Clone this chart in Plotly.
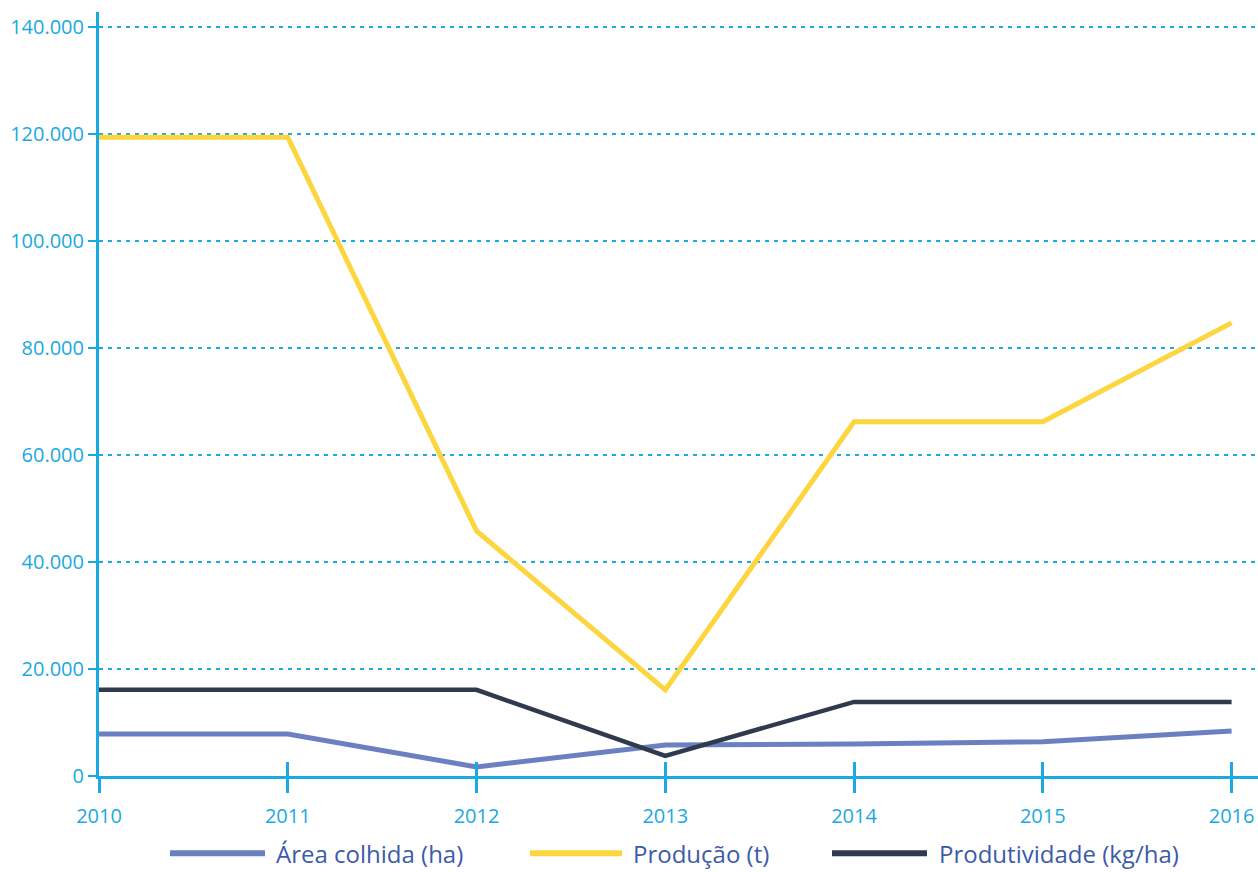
import plotly.graph_objects as go

# Anos da série
anos = [2010, 2011, 2012, 2013, 2014, 2015, 2016]

# Séries
area_colhida = [7850, 7850, 1700, 5800, 6000, 6400, 8400]          # ha
producao = [119400, 119400, 45800, 16100, 66200, 66200, 84700]      # t
produtividade = [16100, 16100, 16100, 3750, 13850, 13850, 13850]    # kg/ha

nomes = ["Área colhida (ha)", "Produção (t)", "Produtividade (kg/ha)"]
cores = ["#6a80c1", "#fdd53e", "#2f3a4e"]
larguras = [5, 5, 4.5]

y_ticks = [0, 20000, 40000, 60000, 80000, 100000, 120000, 140000]

AZUL = "#1aa9e1"
FONTE = "Open Sans, Noto Sans, sans-serif"

fig = go.Figure()
for nome, serie, cor, lw in zip(nomes, [area_colhida, producao, produtividade], cores, larguras):
    fig.add_trace(go.Scatter(
        x=anos, y=serie, name=nome, mode="lines",
        line=dict(color=cor, width=lw), showlegend=False,
        cliponaxis=False,
    ))

x_range = [2010, 2016.14]
y_range = [0, 142800]

fig.update_layout(
    width=1258, height=872,
    margin=dict(l=99, r=0, t=12, b=96),
    plot_bgcolor="white", paper_bgcolor="white",
    separators=",.",
    font=dict(family=FONTE, color=AZUL),
    xaxis=dict(
        range=x_range, tickvals=anos, ticktext=[str(a) for a in anos],
        showgrid=False, zeroline=False,
        showline=True, linecolor=AZUL, linewidth=2.5,
        ticks="outside", ticklen=14, tickwidth=2.5, tickcolor=AZUL,
        ticklabelstandoff=6,
        tickfont=dict(size=20, color=AZUL, family=FONTE),
    ),
    xaxis2=dict(
        range=x_range, tickvals=anos, overlaying="x", anchor="y",
        showgrid=False, zeroline=False, showline=False,
        ticks="inside", ticklen=14, tickwidth=2.5, tickcolor=AZUL,
        showticklabels=False,
    ),
    yaxis=dict(
        range=y_range, tickvals=y_ticks, tickformat=",d",
        showgrid=True, gridcolor=AZUL, gridwidth=1.5, griddash="4px,5px",
        zeroline=False,
        showline=True, linecolor=AZUL, linewidth=3,
        ticks="outside", ticklen=8, tickwidth=1.5, tickcolor=AZUL,
        tickfont=dict(size=20, color=AZUL, family=FONTE),
    ),
)

# Traço invisível para ativar o eixo x secundário (marcas internas)
fig.add_trace(go.Scatter(x=[anos[0]], y=[0], xaxis="x2", mode="markers",
                         marker=dict(opacity=0), showlegend=False, hoverinfo="skip"))

# Legenda horizontal abaixo do gráfico
leg_y = -0.101
itens_x = [(170, 265, 274), (530, 622, 631), (832, 927, 937)]
for (x0, x1, xt), nome, cor in zip(itens_x, nomes, cores):
    fig.add_shape(type="line", xref="paper", yref="paper",
                  x0=(x0 - 99) / 1159, x1=(x1 - 99) / 1159, y0=leg_y, y1=leg_y,
                  line=dict(color=cor, width=6))
    fig.add_annotation(xref="paper", yref="paper", x=(xt - 99) / 1159, y=leg_y,
                       text=nome, showarrow=False, xanchor="left", yanchor="middle",
                       font=dict(size=24, color="#3c5ba8", family=FONTE))

fig.write_html("out.html")
